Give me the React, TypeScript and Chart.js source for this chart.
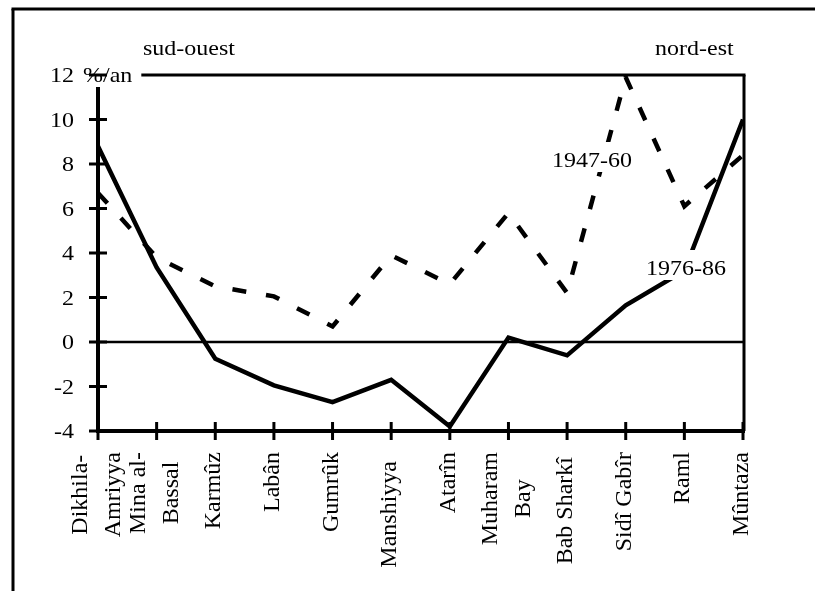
import React, { useEffect, useRef } from "react";
import { Chart, registerables } from "chart.js";

Chart.register(...registerables);

// ---- data ----
const categories: (string | string[])[] = [
  ["Dikhila-", "Amriyya"],
  ["Mina al-", "Bassal"],
  "Karmûz",
  "Labân",
  "Gumrûk",
  "Manshiyya",
  "Atarîn",
  ["Muharam", "Bay"],
  "Bab Sharkî",
  "Sidî Gabîr",
  "Raml",
  "Mûntaza",
];
const series1976 = [8.8, 3.35, -0.75, -1.95, -2.7, -1.7, -3.8, 0.2, -0.6, 1.65, 3.2, 10.0];
const series1947 = [6.7, 3.8, 2.5, 2.05, 0.7, 3.9, 2.6, 5.8, 2.2, 11.9, 6.1, 8.4];
const yTicks = [-4, -2, 0, 2, 4, 6, 8, 10, 12];
const yTickLabels = ["-4", "-2", "0", "2", "4", "6", "8", "10", "12"];
const unitLabel = "%/an";
const leftTitle = "sud-ouest";
const rightTitle = "nord-est";
const name1976 = "1976-86";
const name1947 = "1947-60";

// ---- style ----
const FONT = '24px "Liberation Serif", "Times New Roman", serif';
const SQ = 0.86; // vertical squash of horizontal text
const labelNudge: Record<string, number> = { Manshiyya: 9, "Bab Sharkî": 5 };

function hText(ctx: CanvasRenderingContext2D, s: string, x: number, y: number, align: CanvasTextAlign) {
  ctx.save();
  ctx.translate(x, y);
  ctx.scale(1, SQ);
  ctx.textAlign = align;
  ctx.textBaseline = "alphabetic";
  ctx.fillText(s, 0, 0);
  ctx.restore();
}

function line(ctx: CanvasRenderingContext2D, x1: number, y1: number, x2: number, y2: number, w: number) {
  ctx.save();
  ctx.lineWidth = w;
  ctx.strokeStyle = "#000";
  ctx.lineCap = "butt";
  ctx.beginPath();
  ctx.moveTo(x1, y1);
  ctx.lineTo(x2, y2);
  ctx.stroke();
  ctx.restore();
}

const decor = {
  id: "decor",
  beforeDatasetsDraw(chart: any) {
    const ctx: CanvasRenderingContext2D = chart.ctx;
    const { left, right } = chart.chartArea;
    const y0 = chart.scales.y.getPixelForValue(0);
    line(ctx, left, y0, right + 1, y0, 2.5);
  },
  afterDatasetsDraw(chart: any) {
    const ctx: CanvasRenderingContext2D = chart.ctx;
    const xs = chart.scales.x;
    const ys = chart.scales.y;
    const { left, right, top, bottom } = chart.chartArea;
    ctx.save();
    ctx.fillStyle = "#000";
    ctx.font = FONT;

    // outer frame (left + top)
    line(ctx, 13, 9, 13, 600, 3);
    line(ctx, 11.5, 9, 820, 9, 3);

    // y tick labels
    yTicks.forEach((v, i) => {
      const y = ys.getPixelForValue(v);
      hText(ctx, yTickLabels[i], 74, y + 7, "right");
    });
    const yTop = ys.getPixelForValue(yTicks[yTicks.length - 1]);
    hText(ctx, unitLabel, 83, yTop + 7, "left");
    const unitEnd = 83 + ctx.measureText(unitLabel).width + 9;

    // box lines top / right
    line(ctx, unitEnd, top, right + 2.5, top, 3);
    line(ctx, right + 1, top, right + 1, bottom, 3);

    // axes
    line(ctx, left, top + 12, left, bottom + 2, 4);
    line(ctx, left - 2, bottom, right + 2, bottom, 4);

    // y ticks
    yTicks.forEach((v) => {
      const y = ys.getPixelForValue(v);
      line(ctx, left - 9, y, left + 9, y, 3);
    });
    // x ticks
    categories.forEach((_, i) => {
      const x = xs.getPixelForValue(i);
      line(ctx, x, bottom - 9, x, bottom + 9, 3);
    });

    // x labels, rotated
    categories.forEach((c, i) => {
      const lines = Array.isArray(c) ? c : [c];
      const key = lines.join(" ");
      const x = xs.getPixelForValue(i);
      const maxW = Math.max(...lines.map((l) => ctx.measureText(l).width));
      const n = lines.length;
      lines.forEach((l, j) => {
        const bx = x + 5 + (j - (n - 1) / 2) * 33;
        ctx.save();
        ctx.translate(bx, 452 + (labelNudge[key] || 0));
        ctx.rotate(-Math.PI / 2);
        ctx.textAlign = "center";
        ctx.textBaseline = "alphabetic";
        ctx.fillText(l, -maxW / 2, 0);
        ctx.restore();
      });
    });

    // titles
    hText(ctx, leftTitle, 143, 55, "left");
    hText(ctx, rightTitle, 655, 55, "left");

    // series labels with white boxes
    const boxed = (s: string, x: number, by: number) => {
      const w = ctx.measureText(s).width;
      ctx.save();
      ctx.fillStyle = "#fff";
      ctx.fillRect(x - 3, by - 25, w + 6, 30);
      ctx.restore();
      hText(ctx, s, x, by, "left");
    };
    boxed(name1947, 552, 167);
    boxed(name1976, 646, 275);

    ctx.restore();
  },
};

export default function App() {
  const ref = useRef<HTMLCanvasElement>(null);
  useEffect(() => {
    const canvas = ref.current!;
    const chart = new Chart(canvas, {
      type: "line",
      data: {
        labels: categories as any,
        datasets: [
          {
            label: name1976,
            data: series1976,
            borderColor: "#000",
            borderWidth: 4.5,
            pointRadius: 0,
            tension: 0,
            fill: false,
          },
          {
            label: name1947,
            data: series1947,
            borderColor: "#000",
            borderWidth: 4.5,
            borderDash: [14, 20],
            borderCapStyle: "butt",
            pointRadius: 0,
            tension: 0,
            fill: false,
          },
        ],
      },
      options: {
        responsive: false,
        animation: false,
        devicePixelRatio: 1,
        layout: { padding: { left: 98, right: 72, top: 75, bottom: 160 } },
        plugins: { legend: { display: false }, tooltip: { enabled: false } },
        scales: {
          x: { type: "category", display: false, offset: false },
          y: { type: "linear", display: false, min: -4, max: 12 },
        },
      },
      plugins: [decor],
    });
    return () => chart.destroy();
  }, []);
  return (
    <div style={{ position: "fixed", left: 0, top: 0, width: 815, height: 591, background: "#fff", overflow: "hidden" }}>
      <canvas ref={ref} width={815} height={591} style={{ display: "block" }} />
    </div>
  );
}
